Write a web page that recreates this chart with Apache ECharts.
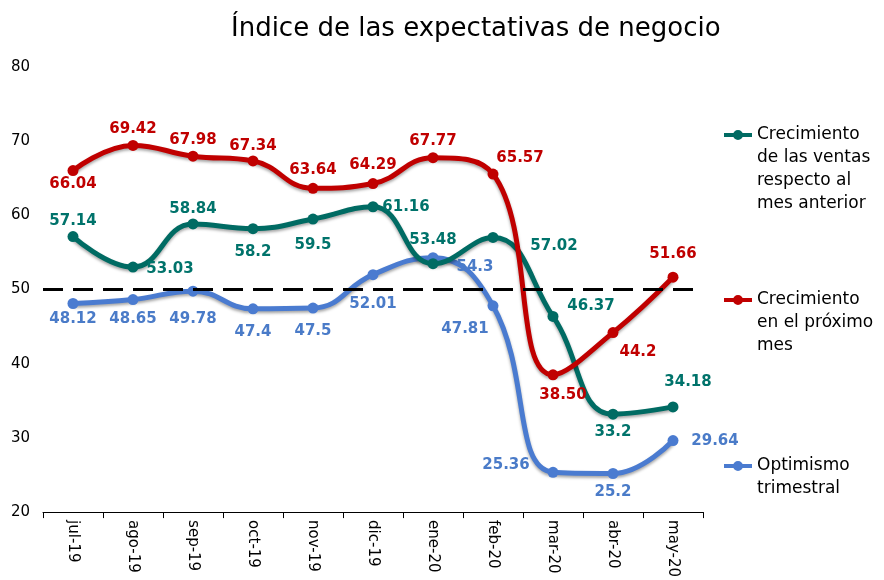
<!DOCTYPE html>
<html>
<head>
<meta charset="utf-8">
<script src="https://cdn.jsdelivr.net/npm/echarts@6/dist/echarts.min.js"></script>
<style>
  html, body { margin: 0; padding: 0; background: #fff; }
  #main { width: 884px; height: 580px; }
</style>
</head>
<body>
<div id="main"></div>
<script>
// 数据
var months = ['jul-19', 'ago-19', 'sep-19', 'oct-19', 'nov-19', 'dic-19', 'ene-20', 'feb-20', 'mar-20', 'abr-20', 'may-20'];
var ventas = [57.14, 53.03, 58.84, 58.2, 59.5, 61.16, 53.48, 57.02, 46.37, 33.2, 34.18];
var proximo = [66.04, 69.42, 67.98, 67.34, 63.64, 64.29, 67.77, 65.57, 38.50, 44.2, 51.66];
var optimismo = [48.12, 48.65, 49.78, 47.4, 47.5, 52.01, 54.3, 47.81, 25.36, 25.2, 29.64];
var proximoLabels = ['66.04', '69.42', '67.98', '67.34', '63.64', '64.29', '67.77', '65.57', '38.50', '44.2', '51.66'];
var yTicks = [20, 30, 40, 50, 60, 70, 80];
var threshold = 50;

var names = [
    'Crecimiento\nde las ventas\nrespecto al\nmes anterior',
    'Crecimiento\nen el próximo\nmes',
    'Optimismo\ntrimestral'
];

// 标签偏移 (相对数据点)
var offVentas = [[0, -15], [37, 2], [0, -15], [0, 23], [0, 26], [33, 0], [0, -24], [61, 9], [38, -10], [0, 18], [15, -25]];
var offProximo = [[0, 14], [0, -16], [0, -16], [0, -15], [0, -18], [0, -18], [0, -17], [27, -16], [10, 20], [25, 20], [0, -23]];
var offOptimismo = [[0, 16], [0, 20], [0, 28], [0, 23], [0, 23], [0, 29], [42, 9], [-28, 23], [-47, -7], [0, 19], [42, 1]];

var FONT = '"DejaVu Sans", Verdana, sans-serif';
var LH = 23;

function buildData(values, offsets, labels) {
    return values.map(function (v, i) {
        return {
            value: v,
            label: {
                position: 'inside',
                offset: offsets[i],
                formatter: labels ? labels[i] : String(v)
            }
        };
    });
}

function makeSeries(name, values, offsets, color, labelColor, labels, z) {
    return {
        name: name,
        type: 'line',
        smooth: 0.45,
        z: z,
        data: buildData(values, offsets, labels),
        symbol: 'circle',
        symbolSize: 11,
        itemStyle: { color: color },
        lineStyle: {
            color: color,
            width: 5,
            shadowColor: 'rgba(0,0,0,0.35)',
            shadowBlur: 3,
            shadowOffsetY: 2
        },
        label: {
            show: true,
            color: labelColor,
            fontFamily: FONT,
            fontWeight: 'bold',
            fontSize: 15
        },
        emphasis: { disabled: true }
    };
}

// 图例: 前面补空行, 让图标对齐第一行
function makeLegend(name, iconY, lines) {
    var total = 2 * lines - 1;
    var prefix = new Array(lines).join('\n');
    return {
        data: [name],
        orient: 'vertical',
        left: 724,
        top: iconY - total * LH / 2,
        padding: 0,
        itemWidth: 28,
        itemHeight: 10,
        itemGap: 5,
        icon: 'path://M0,3L28,3L28,7L0,7Z M9,5a5,5 0 1,1 10,0a5,5 0 1,1 -10,0Z',
        selectedMode: false,
        formatter: function (n) { return prefix + n; },
        textStyle: {
            fontFamily: FONT,
            fontSize: 17,
            color: '#000',
            lineHeight: LH
        }
    };
}

var myChart = echarts.init(document.getElementById('main'), null, { renderer: 'canvas' });

var series = [
    makeSeries(names[0], ventas, offVentas, '#006B63', '#00736B', null, 3),
    makeSeries(names[1], proximo, offProximo, '#C00000', '#C00000', proximoLabels, 4),
    makeSeries(names[2], optimismo, offOptimismo, '#4A7BD0', '#4A7BC8', null, 2)
];

series[0].markLine = {
    silent: true,
    symbol: 'none',
    label: { show: false },
    lineStyle: { color: '#000', type: [20, 10], width: 3 },
    data: [{ yAxis: threshold }]
};

myChart.setOption({
    animation: false,
    title: {
        text: 'Índice de las expectativas de negocio',
        left: 226,
        top: 11,
        textStyle: {
            fontFamily: FONT,
            fontSize: 26,
            fontWeight: 'normal',
            color: '#000'
        }
    },
    legend: [
        makeLegend(names[0], 135, 4),
        makeLegend(names[1], 300, 3),
        makeLegend(names[2], 466, 2)
    ],
    grid: {
        left: 43,
        right: 181,
        top: 67,
        bottom: 67
    },
    xAxis: {
        type: 'category',
        data: months,
        boundaryGap: true,
        axisLine: { lineStyle: { color: '#000', width: 1 } },
        axisTick: { show: true, length: 6, lineStyle: { color: '#000' } },
        axisLabel: {
            rotate: -90,
            interval: 0,
            margin: 8,
            color: '#000',
            fontFamily: FONT,
            fontSize: 15
        }
    },
    yAxis: {
        type: 'value',
        min: yTicks[0],
        max: yTicks[yTicks.length - 1],
        interval: 10,
        axisLine: { show: false },
        axisTick: { show: false },
        splitLine: { show: false },
        axisLabel: {
            margin: 13,
            color: '#000',
            fontFamily: FONT,
            fontSize: 15
        }
    },
    series: series
});
</script>
</body>
</html>
